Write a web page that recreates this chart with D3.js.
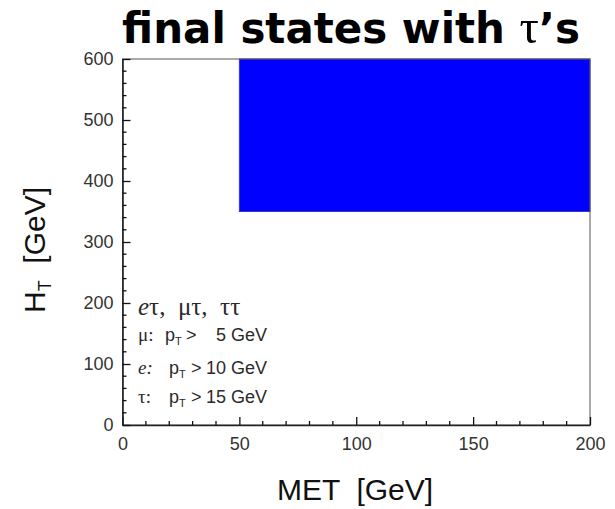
<!DOCTYPE html>
<html>
<head>
<meta charset="utf-8">
<script src="https://cdn.jsdelivr.net/npm/d3@7"></script>
<style>
  html, body { margin: 0; padding: 0; background: #fff; }
  svg { display: block; }
  text { white-space: pre; }
</style>
</head>
<body>
<svg id="chart" width="615" height="509"></svg>
<script>
// Axis domains and ticks
const xDomain = [0, 200];
const yDomain = [0, 600];
const xMajorTicks = [0, 50, 100, 150, 200];
const yMajorTicks = [0, 100, 200, 300, 400, 500, 600];
const xMinorStep = 10;
const yMinorStep = 20;

// Selected signal region: MET > 50 GeV, HT > 350 GeV
const regionMET = [50, 200];
const regionHT = [350, 600];

// Channel list and lepton pT thresholds
const channelsLabel = "eτ,  μτ,  ττ";
const leptons = ["μ", "e", "τ"];
const ptThresholds = [5, 10, 15];

const titleWords = "final states with ";
const titleTau = "τ";
const titleTail = "’s";
const xTitle = "MET  [GeV]";

const svg = d3.select("#chart");
const plotLeft = 122.5, plotRight = 590, plotTop = 59, plotBottom = 425;

const x = d3.scaleLinear().domain(xDomain).range([plotLeft, plotRight]);
const y = d3.scaleLinear().domain(yDomain).range([plotBottom, plotTop]);

const sans = "'Liberation Sans', Arial, sans-serif";
const serif = "'Liberation Serif', 'Times New Roman', serif";
const ink = "#2a2a2a";

// Shaded region
svg.append("rect")
  .attr("x", x(regionMET[0]))
  .attr("y", y(regionHT[1]))
  .attr("width", x(regionMET[1]) - x(regionMET[0]))
  .attr("height", y(regionHT[0]) - y(regionHT[1]))
  .attr("fill", "#0000ff")
  .attr("stroke", "#3a3ab0")
  .attr("stroke-width", 1);

// Frame
svg.append("rect")
  .attr("x", plotLeft).attr("y", plotTop)
  .attr("width", plotRight - plotLeft).attr("height", plotBottom - plotTop)
  .attr("fill", "none")
  .attr("stroke", "#555")
  .attr("stroke-width", 1);

// Axes with inward ticks
const xMinor = d3.range(xDomain[0], xDomain[1] + 0.001, xMinorStep).filter(v => !xMajorTicks.includes(v));
const yMinor = d3.range(yDomain[0], yDomain[1] + 0.001, yMinorStep).filter(v => !yMajorTicks.includes(v));

const xAxis = svg.append("g").attr("transform", `translate(0,${plotBottom})`)
  .call(d3.axisBottom(x).tickValues(xMajorTicks).tickSizeInner(-8).tickSizeOuter(0).tickPadding(12));
xAxis.append("g").selectAll("line").data(xMinor).join("line")
  .attr("x1", d => x(d)).attr("x2", d => x(d)).attr("y1", 0).attr("y2", -4)
  .attr("stroke", "#111").attr("stroke-width", 1.3);

const yAxis = svg.append("g").attr("transform", `translate(${plotLeft},0)`)
  .call(d3.axisLeft(y).tickValues(yMajorTicks).tickSizeInner(-8).tickSizeOuter(0).tickPadding(9));
yAxis.append("g").selectAll("line").data(yMinor).join("line")
  .attr("y1", d => y(d)).attr("y2", d => y(d)).attr("x1", 0).attr("x2", 4)
  .attr("stroke", "#111").attr("stroke-width", 1.3);

[xAxis, yAxis].forEach(g => {
  g.select(".domain").attr("stroke", "#222").attr("stroke-width", 1.6);
  g.selectAll(".tick line").attr("stroke", "#111").attr("stroke-width", 1.3);
  g.selectAll(".tick text").attr("font-family", sans).attr("font-size", 18).attr("fill", "#333");
});

// Title (serif tau between bold sans words), fitted to the plot width
const title = svg.append("text")
  .attr("x", 351).attr("y", 43)
  .attr("text-anchor", "middle")
  .attr("font-family", "'DejaVu Sans', Verdana, sans-serif")
  .attr("font-weight", "bold")
  .attr("font-size", 36)
  .attr("fill", "#000");
title.append("tspan").text(titleWords);
title.append("tspan").attr("font-family", serif).attr("font-weight", "normal").attr("font-size", "1.15em").text(titleTau);
title.append("tspan").text(titleTail);
const tw = title.node().getComputedTextLength();
title.attr("font-size", 36 * 458 / tw);

// Axis titles
svg.append("text")
  .attr("x", 355).attr("y", 500)
  .attr("text-anchor", "middle")
  .attr("font-family", sans).attr("font-size", 30).attr("fill", "#111")
  .text(xTitle);

const yt = svg.append("text")
  .attr("transform", "translate(45,250) rotate(-90)")
  .attr("text-anchor", "middle")
  .attr("font-family", sans).attr("font-size", 30).attr("fill", "#111");
yt.append("tspan").text("H");
yt.append("tspan").attr("font-size", 18).attr("dy", 6).text("T");
yt.append("tspan").attr("dy", -6).text("  [GeV]");

// Channel annotation
const ch = svg.append("text")
  .attr("x", 138).attr("y", 315)
  .attr("font-family", serif).attr("font-size", 25).attr("fill", ink);
ch.append("tspan").attr("font-style", "italic").text(channelsLabel[0]);
ch.append("tspan").text(channelsLabel.slice(1));

// Threshold lines
const rowY = [341, 374, 403];
const pX = [165, 169, 169];
const gtX = [186, 191, 191];
leptons.forEach((lep, i) => {
  const yy = rowY[i];
  svg.append("text")
    .attr("x", 138).attr("y", yy)
    .attr("font-family", serif).attr("font-size", 19).attr("fill", ink)
    .attr("font-style", lep === "e" ? "italic" : "normal")
    .text(lep + ":");
  const p = svg.append("text")
    .attr("x", pX[i]).attr("y", yy)
    .attr("font-family", sans).attr("font-size", 18).attr("fill", ink);
  p.append("tspan").text("p");
  p.append("tspan").attr("font-size", 11).attr("dy", 4).text("T");
  svg.append("text")
    .attr("x", gtX[i]).attr("y", yy)
    .attr("font-family", sans).attr("font-size", 18).attr("fill", ink)
    .text(">");
  svg.append("text")
    .attr("x", 267).attr("y", yy)
    .attr("text-anchor", "end")
    .attr("font-family", sans).attr("font-size", 18).attr("fill", ink)
    .text(ptThresholds[i] + " GeV");
});
</script>
</body>
</html>
